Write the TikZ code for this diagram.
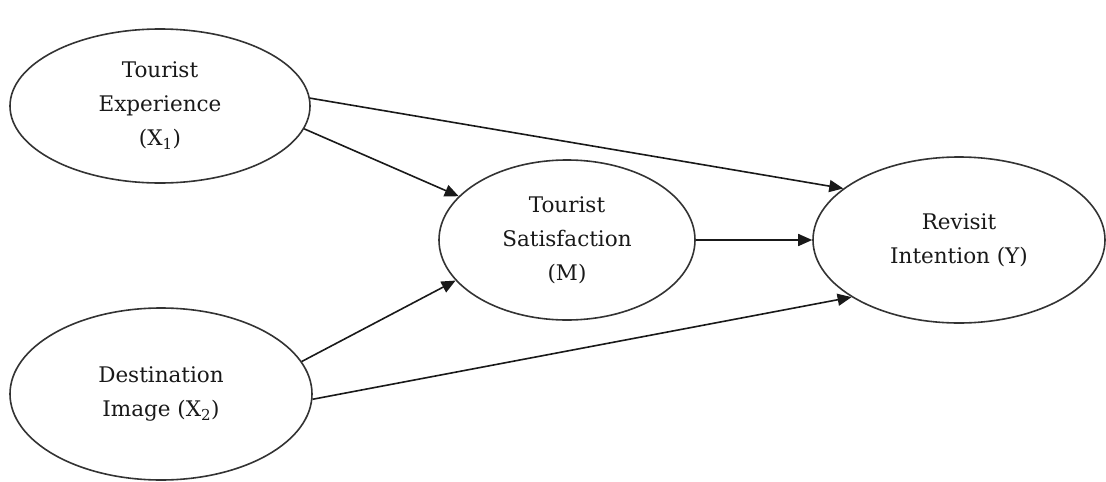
\documentclass[tikz,border=0pt]{standalone}
\usepackage{fontspec}
\setmainfont{DejaVu Serif}
\usetikzlibrary{arrows.meta,shapes.geometric}
\begin{document}
\begin{tikzpicture}[x=1pt,y=-1pt,
    construct/.style={ellipse,draw=black!80,line width=1.6pt,inner sep=0pt,align=center,
        text=black!90,font=\fontsize{21.5}{34}\selectfont},
    effect/.style={-{Triangle[length=14pt,width=12pt]},line width=1.6pt,black!90}]
    \useasboundingbox (0,0) rectangle (1106,482);
    % Draw the constructs
    \node[construct,minimum width=300pt,minimum height=154pt] (exp) at (160,106) {Tourist\\Experience\\(X\textsubscript{1})};
    \node[construct,minimum width=302pt,minimum height=172pt] (img) at (161,394) {Destination\\Image (X\textsubscript{2})};
    \node[construct,minimum width=256pt,minimum height=160pt] (sat) at (567,240) {Tourist\\Satisfaction\\(M)};
    \node[construct,minimum width=292pt,minimum height=166pt] (rev) at (959,240) {Revisit\\Intention (Y)};

    % Draw the paths between them
    \draw[effect] (exp.3) -- (rev.156);
    \draw[effect] (exp.-9) -- (sat.158);
    \draw[effect] (sat.east) -- (rev.west);
    \draw[effect] (img.13) -- (sat.-160);
    \draw[effect] (img.-2) -- (rev.-152);
\end{tikzpicture}
\end{document}
